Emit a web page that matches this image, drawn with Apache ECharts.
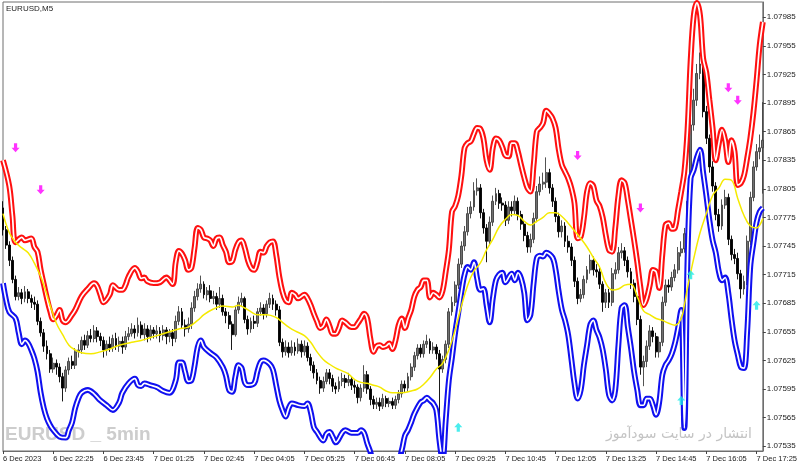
<!DOCTYPE html>
<html>
<head>
<meta charset="utf-8">
<script src="https://cdn.jsdelivr.net/npm/echarts@6/dist/echarts.min.js"></script>
<style>
  html, body { margin: 0; padding: 0; background: #fff; }
  #chart { width: 800px; height: 468px; }
</style>
</head>
<body>
<div id="chart"></div>
<script>
// prices are kept in points (1e-5) above BASE
const BASE = 1.075;

const tickLabels = ['6 Dec 2023', '6 Dec 22:25', '6 Dec 23:45', '7 Dec 01:25', '7 Dec 02:45', '7 Dec 04:05',
  '7 Dec 05:25', '7 Dec 06:45', '7 Dec 08:05', '7 Dec 09:25', '7 Dec 10:45', '7 Dec 12:05',
  '7 Dec 13:25', '7 Dec 14:45', '7 Dec 16:05', '7 Dec 17:25'];

const priceTicks = [1.07535, 1.07565, 1.07595, 1.07625, 1.07655, 1.07685, 1.07715, 1.07745,
  1.07775, 1.07805, 1.07835, 1.07865, 1.07895, 1.07925, 1.07955, 1.07985];

const opens = [
  285,262,246,230,210,192,196,190,197,190, 186,184,166,154,140,132,116,122,118,108,
  96,115,124,120,134,136,146,141,151,148, 156,150,146,136,142,138,148,140,145,139,
  150,153,158,154,162,152,158,150,157,153, 156,151,157,150,154,148,166,176,162,158,
  163,180,192,200,205,194,198,190,192,184, 190,176,172,163,152,178,186,190,168,158,
  166,164,176,180,174,184,190,184,178,144, 134,139,133,139,135,142,134,140,128,120,
  112,104,96,103,112,106,98,95,103,106, 102,105,99,97,86,96,110,95,84,79,
  81,77,85,80,82,78,84,90,100,96, 108,118,130,138,132,142,145,136,139,132,
  116,126,142,176,186,204,226,245,260,279, 286,303,306,280,264,250,270,292,300,290,
  288,272,286,282,292,278,268,256,244,252, 274,302,310,312,322,306,292,276,260,266,
  250,244,230,208,190,194,210,220,230,220, 218,205,186,196,186,216,220,238,240,230,
  218,206,192,168,118,124,140,156,150,134, 144,186,204,202,212,220,238,242,258,292,
  372,398,426,436,386,358,328,308,278,266, 288,296,252,236,232,216,200,208,250,296,
  328,344,348
];
const closes = [
  262,246,230,210,192,196,190,197,190,186, 184,166,154,140,132,116,122,118,108,96,
  115,124,120,134,136,146,141,151,148,156, 150,146,136,142,138,148,140,145,139,150,
  153,158,154,162,152,158,150,157,153,156, 151,157,150,154,148,166,176,162,158,163,
  180,192,200,205,194,198,190,192,184,190, 176,172,163,152,178,186,190,168,158,166,
  164,176,180,174,184,190,184,178,144,134, 139,133,139,135,142,134,140,128,120,112,
  104,96,103,112,106,98,95,103,106,102, 105,99,97,86,96,110,95,84,79,81,
  77,85,80,82,78,84,90,100,96,108, 118,130,138,132,142,145,136,139,132,116,
  126,142,176,186,204,226,245,260,279,286, 303,306,280,264,250,270,292,300,290,288,
  272,286,282,292,278,268,256,244,252,274, 302,310,312,322,306,292,276,260,266,250,
  244,230,208,190,194,210,220,230,220,218, 205,186,196,186,216,220,238,240,230,218,
  206,192,168,118,124,140,156,150,134,144, 186,204,202,212,220,238,242,258,292,372,
  398,426,436,386,358,328,308,278,266,288, 296,252,236,232,216,200,208,250,296,328,
  344,348,356
];
const highs = [
  292,266,250,234,214,202,200,203,200,194, 192,188,170,158,146,136,128,126,122,112,
  119,128,130,138,142,150,152,156,158,162, 160,154,150,146,150,152,154,150,150,156,
  160,164,162,170,166,164,162,162,160,162, 160,162,160,158,158,172,182,180,168,170,
  186,198,206,214,208,202,204,198,196,202, 194,180,176,166,182,192,196,192,172,170,
  172,180,186,184,188,196,194,188,182,148, 146,144,146,144,148,146,146,144,132,124,
  116,108,108,116,116,110,102,108,112,110, 112,108,104,100,100,120,114,98,88,86,
  86,90,88,86,86,88,94,104,104,112, 122,134,142,142,146,152,148,144,142,136,
  130,146,180,192,208,232,250,266,286,292, 312,316,310,284,268,276,298,306,304,296,
  292,292,292,298,296,282,272,260,258,280, 308,318,322,338,326,310,296,280,272,270,
  256,248,234,212,200,214,224,236,234,226, 222,208,200,200,222,228,244,248,244,234,
  222,210,196,172,130,146,162,160,154,150, 192,210,210,218,226,244,250,264,300,380,
  410,436,448,440,392,362,334,312,284,294, 304,300,256,242,238,220,214,256,302,334,
  352,362,396
];
const lows = [
  256,242,224,206,188,188,184,186,185,180, 178,162,150,134,126,112,112,110,102,82,
  92,110,116,116,128,132,136,138,144,144, 144,140,128,130,134,134,136,134,132,136,
  146,150,148,150,148,146,144,146,148,148, 144,146,142,144,140,144,162,158,150,154,
  158,176,188,196,190,188,186,184,178,180, 172,164,158,136,150,174,182,164,152,154,
  158,160,172,168,170,180,178,172,140,128, 130,128,130,130,132,128,130,124,114,106,
  100,90,92,100,100,92,90,92,98,96, 98,94,90,80,82,92,90,78,74,74,
  72,74,76,76,74,74,80,86,92,92, 104,114,126,128,128,138,132,132,126,56,
  112,122,138,172,182,200,222,240,256,274, 282,298,274,258,228,246,266,288,284,282,
  266,268,276,278,272,262,250,238,238,248, 270,298,304,306,300,286,270,254,254,244,
  238,224,202,184,186,190,206,216,214,212, 200,176,180,180,182,210,216,232,224,212,
  200,186,162,110,98,118,136,144,128,128, 140,182,196,198,208,216,234,238,254,288,
  366,392,420,380,352,322,302,272,260,262, 284,246,230,226,210,190,194,204,246,292,
  324,336,300
];

// upper band [bar, points]
const upperBand = [
  [0,335],[2,308],[3,277],[4,249],[6,254],[7,251],[9,253],[10,244],[11,239],[12,220],[13,205],[14,190],
  [15,177],[16,168],[17,172],[18,178],[19,167],[20,165],[22,173],[23,178],[25,192],[27,200],[29,206],
  [30,203],[31,194],[32,186],[34,194],[35,204],[37,199],[38,199],[39,204],[40,213],[42,222],[43,218],
  [44,211],[45,212],[46,208],[48,206],[50,207],[52,212],[54,205],[55,228],[56,240],[57,237],[58,230],
  [59,220],[60,222],[61,243],[62,264],[63,262],[64,254],[65,253],[66,251],[67,245],[68,253],[69,254],
  [70,246],[71,239],[72,228],[73,229],[74,241],[75,249],[76,251],[77,243],[78,230],[79,222],[80,220],
  [81,228],[82,239],[83,238],[84,245],[85,249],[86,250],[87,236],[88,213],[89,197],[90,188],[91,186],
  [92,196],[93,194],[94,190],[96,194],[97,190],[98,183],[99,174],[100,166],[101,159],[102,161],[103,168],
  [104,161],[105,153],[106,153],[107,159],[108,167],[109,165],[111,160],[112,160],[113,164],[114,169],
  [115,174],[116,169],[117,148],[118,134],[119,140],[120,141],[121,139],[122,140],[123,143],[124,137],
  [125,146],[126,162],[127,169],[128,159],[129,169],[130,178],[131,192],[132,199],[133,202],[134,209],
  [135,209],[136,191],[137,196],[138,194],[139,191],[140,198],[141,218],[142,241],[143,281],[144,287],
  [145,298],[146,319],[147,348],[148,353],[149,355],[150,363],[151,369],[152,368],[153,358],[154,335],
  [155,325],[156,348],[157,358],[158,356],[159,349],[160,340],[161,339],[162,353],[163,353],[164,344],
  [165,330],[166,317],[167,306],[168,302],[169,330],[170,365],[171,369],[172,374],[173,387],[174,384],
  [175,379],[176,369],[177,346],[178,330],[179,323],[180,316],[181,306],[182,290],[183,253],[184,255],
  [185,274],[186,302],[187,311],[188,308],[189,293],[190,287],[191,275],[192,256],[193,241],[194,239],
  [195,264],[196,298],[197,314],[198,311],[199,293],[200,272],[201,251],[202,228],[203,202],[204,183],
  [205,190],[206,204],[207,220],[208,218],[209,201],[210,236],[211,267],[212,269],[213,263],[214,264],
  [215,283],[216,302],[217,323],[218,367],[219,440],[220,487],[221,500],[222,487],[223,442],[224,427],
  [225,398],[226,369],[227,335],[228,353],[229,367],[230,356],[231,333],[232,356],[233,344],[234,309],
  [235,311],[236,319],[237,337],[238,358],[239,385],[240,419],[241,456],[242,480]
];

// middle line [bar, points]
const midLine = [
  [0,279],[2,259],[4,249],[6,243],[8,238],[10,227],[12,213],[13,204],[15,183],[17,164],[19,152],[21,141],
  [23,136],[25,133],[28,132],[31,134],[34,137],[37,141],[41,144],[44,146],[47,149],[50,152],[53,155],
  [56,158],[59,160],[62,167],[64,173],[67,179],[70,182],[73,181],[75,183],[77,180],[79,176],[81,173],
  [84,173],[87,170],[89,165],[91,160],[93,156],[96,151],[98,144],[100,134],[102,126],[104,121],[106,117],
  [108,114],[110,111],[112,105],[114,102],[116,101],[118,99],[120,97],[122,93],[124,91],[127,91],[130,93],
  [132,95],[134,100],[136,107],[138,116],[140,122],[142,136],[144,157],[146,182],[148,204],[150,219],
  [152,227],[154,241],[156,252],[158,265],[160,273],[162,278],[164,277],[166,271],[168,267],[170,271],
  [172,275],[174,280],[176,280],[178,276],[180,269],[182,261],[184,253],[186,244],[188,233],[190,223],
  [192,206],[194,199],[196,200],[198,204],[200,205],[202,192],[204,177],[206,173],[208,169],[210,167],
  [212,164],[214,162],[216,169],[217,183],[218,201],[220,232],[222,259],[224,279],[226,298],[228,306],
  [230,315],[232,314],[234,295],[236,277],[238,266],[240,264],[241,267],[242,274]
];

// lower band [bar, points]
const lowerBand = [
  [0,206],[1,188],[2,176],[4,169],[5,154],[6,142],[7,146],[8,143],[9,136],[10,127],[11,113],[12,91],
  [13,75],[14,64],[15,57],[16,52],[18,45],[20,44],[21,52],[22,60],[23,75],[24,85],[25,91],[27,94],
  [29,90],[31,83],[33,78],[35,73],[37,81],[38,91],[40,101],[42,106],[43,99],[44,98],[45,101],[47,99],
  [49,97],[51,93],[53,91],[55,104],[56,123],[57,123],[58,113],[59,103],[60,104],[61,119],[62,139],
  [63,146],[64,139],[66,133],[68,128],[70,118],[71,109],[72,94],[73,92],[74,108],[75,120],[76,117],
  [77,102],[78,99],[80,101],[81,113],[82,123],[83,125],[85,121],[86,115],[87,99],[88,83],[89,73],
  [90,66],[91,75],[92,80],[94,78],[96,77],[97,80],[98,71],[99,55],[100,50],[102,41],[103,48],[104,50],
  [105,45],[106,39],[108,49],[109,52],[111,49],[113,49],[114,52],[115,49],[116,38],[117,29],[118,18],
  [121,10],[125,10],[127,31],[128,46],[129,52],[130,60],[131,69],[133,81],[134,83],[135,86],[136,83],
  [137,80],[138,73],[139,41],[140,20],[141,62],[142,104],[143,128],[144,154],[145,175],[146,197],
  [147,215],[148,223],[149,220],[150,228],[151,211],[152,199],[153,200],[154,183],[155,165],[156,190],
  [157,209],[158,215],[159,217],[160,207],[162,216],[163,209],[164,217],[165,211],[166,196],[167,167],
  [168,173],[169,206],[170,232],[171,235],[172,234],[173,238],[175,233],[176,220],[177,197],[178,178],
  [179,167],[180,152],[181,127],[182,101],[183,85],[184,94],[185,120],[186,141],[187,162],[188,167],
  [189,157],[190,149],[191,136],[192,115],[193,89],[194,83],[195,94],[196,141],[197,180],[198,183],
  [199,160],[200,138],[201,113],[202,94],[203,78],[204,78],[205,85],[206,85],[207,78],[208,68],[209,81],
  [210,110],[211,120],[212,125],[213,132],[214,143],[215,159],[216,178],[217,54],[218,230],[219,316],
  [220,325],[221,338],[222,346],[223,322],[224,298],[225,272],[226,251],[227,238],[228,218],[229,209],
  [230,212],[231,196],[232,169],[233,146],[234,131],[235,118],[236,117],[237,154],[238,223],[239,248],
  [240,270],[241,281],[242,285]
];

// signal arrows [bar, points]
const sellArrows = [[4,348],[12,304],[183,340],[203,285],[231,411],[234,398]];
const buyArrows = [[145,55],[216,83],[219,215],[240,183]];

const toPrice = v => +(BASE + v / 1e5).toFixed(5);
const bars = closes.map((_, i) => String(i));
const candles = closes.map((c, i) => [toPrice(opens[i]), toPrice(c), toPrice(lows[i]), toPrice(highs[i])]);
const conv = arr => arr.map(p => [p[0], toPrice(p[1])]);

const axisFont = "'Liberation Sans', Arial, sans-serif";
const downArrow = 'path://M3,0 L7,0 L7,5 L10,5 L5,10 L0,5 L3,5 Z';
const upArrow = 'path://M5,0 L10,5 L7,5 L7,10 L3,10 L3,5 L0,5 Z';

function band(data, color) {
  return [
    { type: 'line', data: conv(data), smooth: 0.35, showSymbol: false, silent: true, z: 3,
      lineStyle: { color: color, width: 5.8 } },
    { type: 'line', data: conv(data), smooth: 0.35, showSymbol: false, silent: true, z: 4,
      lineStyle: { color: '#ffffff', width: 1.7 } }
  ];
}

const chart = echarts.init(document.getElementById('chart'));
chart.setOption({
  backgroundColor: '#ffffff',
  animation: false,
  grid: { left: 2, right: 36, top: 2, bottom: 17, show: true, borderColor: '#6e6e6e', borderWidth: 1,
    backgroundColor: 'transparent' },
  graphic: [
    { type: 'text', left: 6, top: 5, z: 1,
      style: { text: 'EURUSD,M5', font: "8px 'Liberation Sans', sans-serif", fill: '#222' } },
    { type: 'text', left: 5, top: 425, z: 0,
      style: { text: 'EURUSD _ 5min', font: "bold 19px 'Liberation Sans', sans-serif", fill: '#cdcdcd' } },
    { type: 'text', right: 48, top: 427, z: 0,
      style: { text: 'انتشار در سایت سودآموز', font: "14px 'DejaVu Sans', sans-serif", fill: '#c4c4c4' } }
  ],
  xAxis: {
    type: 'category', data: bars, boundaryGap: false,
    axisLine: { lineStyle: { color: '#6e6e6e' } },
    axisTick: { interval: 15, length: 3, lineStyle: { color: '#444' } },
    axisLabel: { interval: 15, align: 'left', margin: 4, fontSize: 7.5, color: '#222', fontFamily: axisFont,
      formatter: (v, idx) => tickLabels[Math.round(idx / 16)] || '' },
    splitLine: { show: false }
  },
  yAxis: {
    type: 'value', position: 'right', min: 1.0753, max: 1.08001, scale: true,
    axisLine: { show: true, lineStyle: { color: '#6e6e6e' } },
    axisTick: { show: true, length: 3, customValues: priceTicks, lineStyle: { color: '#444' } },
    axisLabel: { customValues: priceTicks, margin: 4, fontSize: 8, color: '#222', fontFamily: axisFont,
      formatter: v => v.toFixed(5) },
    splitLine: { show: false }
  },
  series: [
    { type: 'candlestick', data: candles, barWidth: 2.4, z: 2,
      itemStyle: { color: '#707070', color0: '#000000', borderColor: '#404040', borderColor0: '#000000',
        borderWidth: 0.9 } },
    { type: 'line', data: conv(midLine), smooth: 0.4, showSymbol: false, silent: true, z: 5,
      lineStyle: { color: '#f5ea00', width: 1.5 } },
    ...band(upperBand, '#ff1010'),
    ...band(lowerBand, '#1010f0'),
    { type: 'scatter', data: conv(sellArrows), symbol: downArrow, symbolSize: [8, 9], z: 6,
      itemStyle: { color: '#ff00ff' } },
    { type: 'scatter', data: conv(buyArrows), symbol: upArrow, symbolSize: [8, 9], z: 6,
      itemStyle: { color: '#1de8e8' } }
  ]
});
</script>
</body>
</html>
